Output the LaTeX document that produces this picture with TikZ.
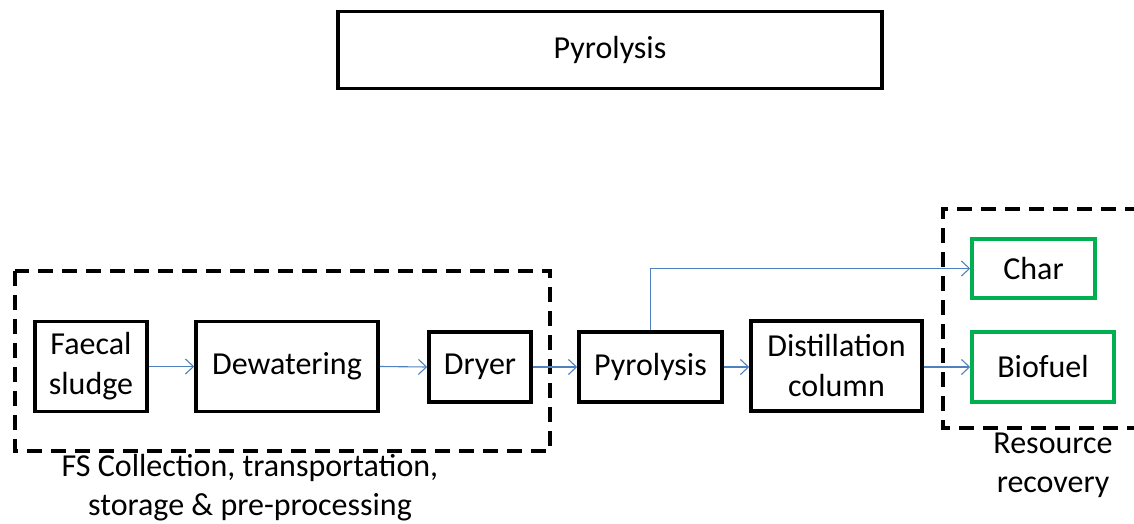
\documentclass[tikz,border=0pt]{standalone}
\usepackage{fontspec}
\setmainfont{Carlito}
\usetikzlibrary{arrows.meta}
\definecolor{flowblue}{RGB}{79,129,189}
\definecolor{outgreen}{RGB}{0,176,80}
\begin{document}
\begin{tikzpicture}[
			x=1pt, y=-1pt,
			>={Straight Barb[length=8pt,width=15pt]},
			proc box/.style={draw, line width=3.5pt, align=center, inner sep=0pt,
				font=\fontsize{32}{40}\selectfont},
			out box/.style={proc box, draw=outgreen},
			flow line/.style={->, flowblue, line width=1.1pt},
			group line/.style={line width=4pt, dash pattern=on 15pt off 9pt},
			label node/.style={align=center, font=\fontsize{32}{39}\selectfont}
			]
			\useasboundingbox (0,0) rectangle (1134,524);
			\node[proc box, minimum width=544pt, minimum height=77pt] (title) at (610,50) {Pyrolysis};
			
			% dashed groups
			\draw[group line] (15,271) rectangle (550,451);
			\draw[group line] (1140,209) -- (943,209) -- (943,428) -- (1140,428);
			
			\node[proc box, minimum width=112pt, minimum height=90pt] (faecal) at (91,366.5) {Faecal\\sludge};
			\node[proc box, minimum width=182pt, minimum height=90pt] (dewater) at (287,366.5) {Dewatering};
			\node[proc box, minimum width=102pt, minimum height=70pt] (dryer) at (480,367) {Dryer};
			\node[proc box, minimum width=143pt, minimum height=70pt] (pyro) at (650.5,367) {Pyrolysis};
			\node[proc box, minimum width=171pt, minimum height=90pt] (distil) at (836.5,366) {Distillation\\column};
			\node[out box, minimum width=123pt, minimum height=59pt] (char) at (1033.5,268.5) {Char};
			\node[out box, minimum width=142pt, minimum height=70pt] (biofuel) at (1043,367) {Biofuel};
			
			\draw[flow line] (faecal.east) -- (dewater.west);
			\draw[flow line] (dewater.east) -- (dryer.west);
			\draw[flow line] (dryer.east) -- (pyro.west);
			\draw[flow line] (pyro.east) -- (distil.west |- pyro.east);
			\draw[flow line] (distil.east |- biofuel.west) -- (biofuel.west);
			\draw[flow line] (pyro.north) |- (char.west);
			
			\node[label node] (fslabel) at (250,488) {FS Collection, transportation,\\storage \& pre-processing};
			\node[label node] (rrlabel) at (1053,465) {Resource\\recovery};
		\end{tikzpicture}
\end{document}
